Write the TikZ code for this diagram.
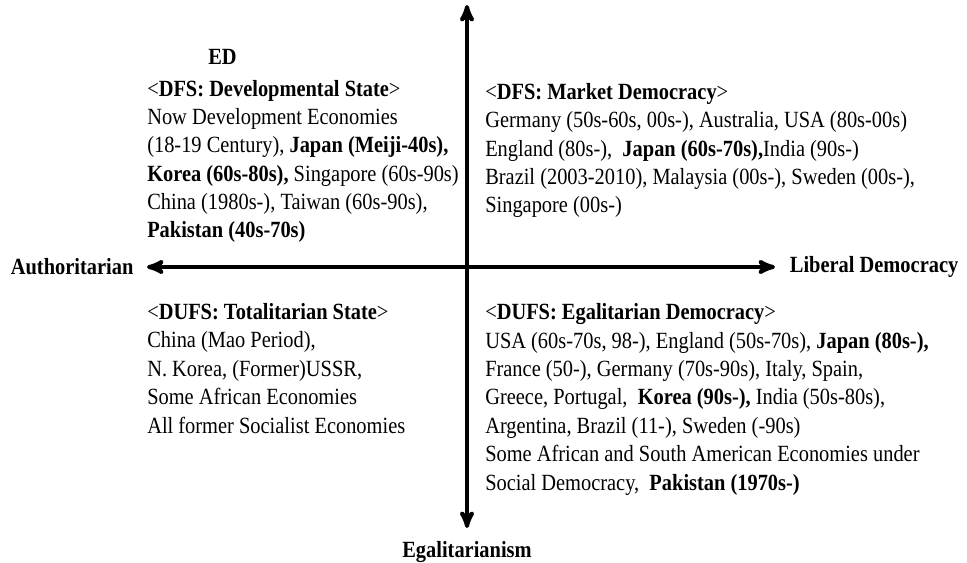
\documentclass[tikz,border=0pt]{standalone}
\usepackage{fontspec}
\setmainfont[FakeStretch=0.88]{Liberation Serif}
\usetikzlibrary{arrows,positioning}

\tikzset{
  axis/.style={line width=3pt},
  block/.style={anchor=base west, align=left, inner sep=0pt,
    font=\fontsize{17.4}{21.3}\selectfont},
  axislabel/.style={inner sep=0pt, font=\fontsize{17.4}{18}\selectfont\bfseries}
}

\begin{document}
\begin{tikzpicture}[x=0.75pt,y=-0.75pt]
\useasboundingbox (0,0) rectangle (967,563);

% ends of the two axes
\coordinate (top) at (467,5);
\coordinate (bottom) at (467,528);
\coordinate (left) at (147,267);
\coordinate (right) at (775,267);

\draw[axis,stealth'-stealth'] (left) -- (right);
\draw[axis,stealth'-stealth'] (bottom) -- (top);

\node[axislabel,left=10pt of left] (auth) {Authoritarian};
\node[axislabel,right=11pt of right] (lib) {Liberal Democracy};
\node[axislabel,below=10pt of bottom] (egal) {Egalitarianism};

% quadrants (placed at the baseline of their last line)
\node[block] (ed) at (208,65) {\textbf{ED}};
\node[block] (devstate) at (147,238) {<\textbf{DFS: Developmental State}>\\
Now Development Economies\\
(18-19 Century), \textbf{Japan (Meiji-40s),}\\
\textbf{Korea (60s-80s),} Singapore (60s-90s)\\
China (1980s-), Taiwan (60s-90s),\\
\textbf{Pakistan (40s-70s)}};

\node[block] (marketdem) at (485,213) {<\textbf{DFS: Market Democracy}>\\
Germany (50s-60s, 00s-), Australia, USA (80s-00s)\\
England (80s-), \ \textbf{Japan (60s-70s),}India (90s-)\\
Brazil (2003-2010), Malaysia (00s-), Sweden (00s-),\\
Singapore (00s-)};

\node[block] (totalstate) at (147,433) {<\textbf{DUFS: Totalitarian State}>\\
China (Mao Period),\\
N. Korea, (Former)USSR,\\
Some African Economies\\
All former Socialist Economies};

\node[block] (egaldem) at (485,490) {<\textbf{DUFS: Egalitarian Democracy}>\\
USA (60s-70s, 98-), England (50s-70s), \textbf{Japan (80s-),}\\
France (50-), Germany (70s-90s), Italy, Spain,\\
Greece, Portugal, \ \textbf{Korea (90s-),} India (50s-80s),\\
Argentina, Brazil (11-), Sweden (-90s)\\
Some African and South American Economies under\\
Social Democracy, \ \textbf{Pakistan (1970s-)}};
\end{tikzpicture}
\end{document}
